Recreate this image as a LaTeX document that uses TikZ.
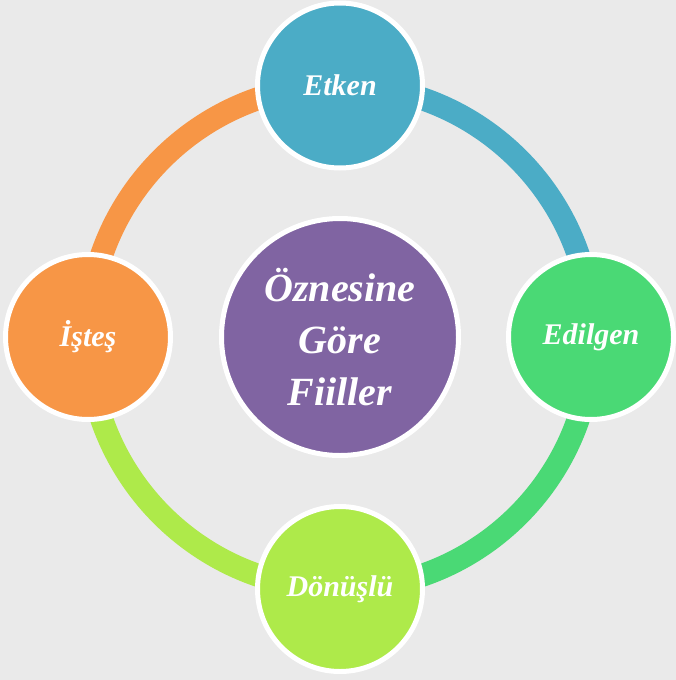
\documentclass[tikz,border=0pt]{standalone}
\usepackage{fontspec}
\setmainfont{Liberation Serif}
\definecolor{bg}{HTML}{EAEAEA}
\definecolor{cblue}{HTML}{4BACC6}
\definecolor{cgreen}{HTML}{4AD975}
\definecolor{clime}{HTML}{AEEA4A}
\definecolor{corange}{HTML}{F79646}
\definecolor{cpurple}{HTML}{8064A2}
\begin{document}
\begin{tikzpicture}[x=1pt,y=-1pt,
  ring/.style={line width=23pt},
  bubble/.style={circle,draw=white,line width=5pt,minimum size=165pt,inner sep=0pt,
     text=white,font=\fontsize{30}{34}\selectfont\bfseries\itshape},
  hub/.style={circle,draw=white,line width=5pt,minimum size=237pt,inner sep=0pt,fill=cpurple,
     text=white,align=center,font=\fontsize{40}{52}\selectfont\bfseries\itshape}]
\fill[bg] (0,0) rectangle (676,680);
\useasboundingbox (0,0) rectangle (676,680);
\coordinate (c) at (340,337);
\draw[ring,cblue] (340,85) arc[start angle=-90,end angle=0,radius=252];
\draw[ring,cgreen] (592,337) arc[start angle=0,end angle=90,radius=252];
\draw[ring,clime] (340,589) arc[start angle=90,end angle=180,radius=252];
\draw[ring,corange] (88,337) arc[start angle=180,end angle=270,radius=252];
\node[bubble,fill=cblue] (etken) at (340,85.5) {Etken};
\node[bubble,fill=cgreen] (edilgen) at (591,337) {Edilgen};
\node[bubble,fill=clime] (donuslu) at (340,589) {Dönüşlü};
\node[bubble,fill=corange] (istes) at (88,337) {İşteş};
\node[hub] (hub) at (c) {Öznesine\\Göre\\Fiiller};
\end{tikzpicture}
\end{document}
